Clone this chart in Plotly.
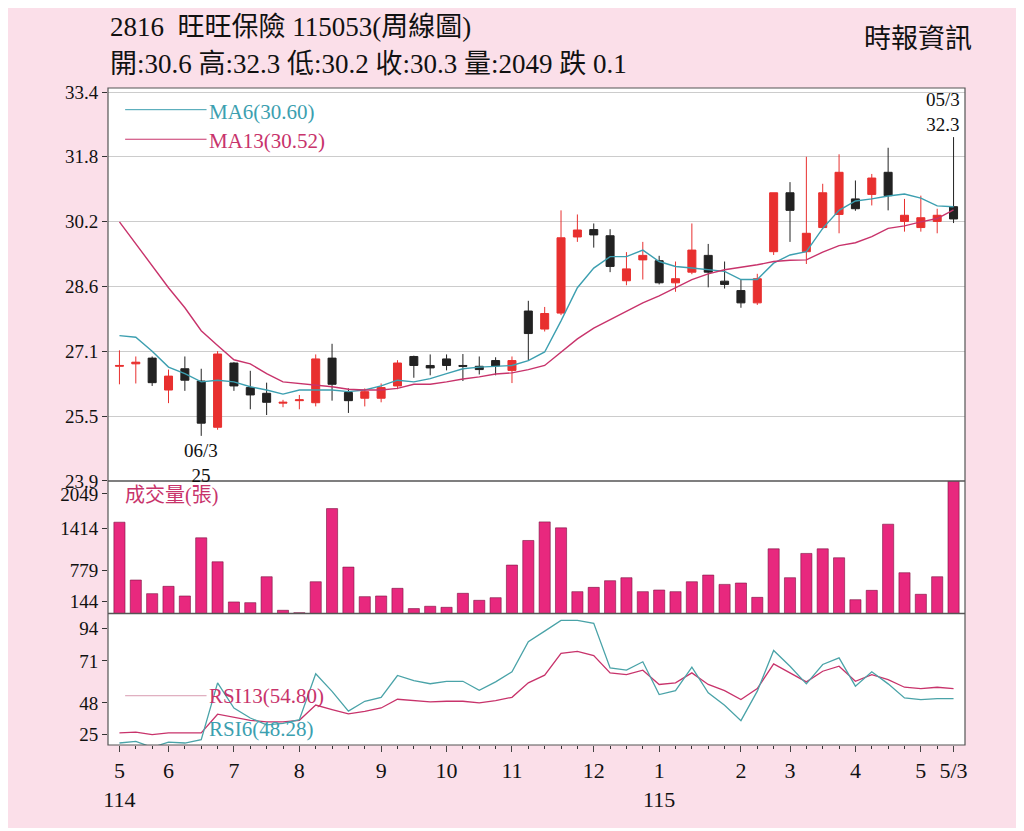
import plotly.graph_objects as go

# weekly candles, 114/05 .. 115/05/3
opens = [26.70, 26.76, 26.90, 26.12, 26.64, 26.34, 25.21, 26.78, 26.18, 26.04, 25.80, 25.86, 25.81, 26.90, 26.06, 25.92, 25.92, 26.22, 26.94, 26.72, 26.88, 26.72, 26.70, 26.84,
         26.60, 28.05, 27.61, 28.00, 29.86, 30.04, 29.89, 28.79, 29.30, 29.28, 28.74, 29.00, 29.41, 28.78, 28.55, 28.25, 29.50, 30.94, 29.50, 30.09, 30.41, 30.79, 30.90, 31.44, 30.24, 30.09, 30.24, 30.6]
highs = [27.09, 26.94, 26.94, 26.62, 26.94, 26.64, 27.07, 26.80, 26.59, 26.30, 25.88, 26.00, 26.99, 27.25, 26.16, 26.16, 26.28, 26.85, 26.96, 26.99, 26.99, 27.00, 26.94, 26.92,
         26.94, 28.30, 28.15, 30.51, 30.41, 30.19, 30.05, 29.49, 29.74, 29.40, 29.26, 30.19, 29.69, 29.26, 28.82, 28.96, 30.94, 31.20, 31.82, 31.16, 31.88, 31.24, 31.40, 32.04, 30.79, 30.87, 30.55, 32.3]
lows = [26.26, 26.28, 26.22, 25.80, 26.10, 25.00, 25.15, 26.10, 25.65, 25.51, 25.70, 25.65, 25.72, 25.86, 25.56, 25.72, 25.82, 26.14, 26.42, 26.48, 26.60, 26.34, 26.50, 26.48,
          26.29, 26.84, 27.55, 27.95, 29.74, 29.60, 29.00, 28.68, 28.82, 28.70, 28.52, 28.95, 28.63, 28.60, 28.13, 28.20, 29.42, 29.74, 29.20, 30.05, 29.95, 30.50, 30.63, 30.51, 29.99, 29.99, 29.95, 30.2]
closes = [26.72, 26.80, 26.30, 26.46, 26.36, 25.31, 27.00, 26.22, 26.00, 25.82, 25.82, 25.88, 26.88, 26.26, 25.86, 26.08, 26.18, 26.78, 26.72, 26.66, 26.72, 26.70, 26.62, 26.71,
          26.84, 27.50, 27.99, 29.84, 30.03, 29.91, 29.14, 29.08, 29.41, 28.74, 28.84, 29.54, 29.00, 28.70, 28.25, 28.84, 30.94, 30.51, 29.95, 30.94, 31.44, 30.55, 31.30, 30.87, 30.39, 30.33, 30.39, 30.3]

ma6 = [27.45, 27.41, 27.07, 26.68, 26.52, 26.32, 26.36, 26.32, 26.20, 26.12, 26.02, 26.12, 26.12, 26.12, 26.08, 26.12, 26.22, 26.36, 26.32, 26.40, 26.52, 26.64, 26.68, 26.70,
       26.72, 26.84, 27.05, 27.81, 28.62, 29.10, 29.38, 29.38, 29.54, 29.26, 29.14, 29.10, 29.06, 29.02, 28.82, 28.82, 29.22, 29.42, 29.50, 30.07, 30.51, 30.74, 30.79, 30.86, 30.91, 30.81, 30.62, 30.60]
ma13 = [30.23, 29.70, 29.14, 28.62, 28.13, 27.57, 27.21, 26.86, 26.76, 26.52, 26.32, 26.28, 26.24, 26.20, 26.14, 26.12, 26.12, 26.16, 26.26, 26.26, 26.32, 26.39, 26.44, 26.51,
        26.54, 26.62, 26.72, 27.05, 27.37, 27.63, 27.83, 28.05, 28.25, 28.42, 28.62, 28.82, 28.96, 29.06, 29.12, 29.18, 29.26, 29.29, 29.30, 29.49, 29.65, 29.72, 29.87, 30.07, 30.13, 30.23, 30.31, 30.52]

volume = [1411, 518, 308, 421, 272, 1170, 800, 180, 169, 569, 51, 15, 492, 1621, 718, 262, 272, 390, 77, 113, 97, 313, 205, 246,
          749, 1129, 1416, 1324, 339, 405, 508, 554, 339, 364, 339, 492, 595, 451, 472, 251, 1000, 554, 929, 1000, 862, 215, 359, 1380, 631, 298, 569, 2049]

rsi6 = [19.1, 20.2, 16.2, 19.7, 19.1, 21.3, 58.6, 42.0, 35.5, 31.0, 32.0, 34.4, 64.5, 53.0, 40.0, 46.5, 49.0, 63.4, 60.0, 58.0, 59.6, 59.6, 53.7, 59.2,
        65.8, 85.5, 92.5, 99.5, 99.5, 97.6, 68.4, 66.9, 72.4, 50.9, 53.5, 68.9, 52.0, 43.9, 33.8, 53.1, 79.8, 69.5, 57.9, 70.6, 75.0, 56.4, 65.8, 57.9, 48.7, 47.6, 48.2, 48.28]
rsi13 = [25.7, 26.3, 24.6, 25.7, 25.7, 25.7, 38.0, 36.0, 34.0, 33.0, 33.0, 34.0, 44.0, 41.0, 38.2, 39.9, 42.1, 47.8, 46.9, 46.1, 46.5, 46.5, 45.4, 46.9,
         49.1, 58.6, 63.6, 77.9, 79.2, 76.5, 65.1, 64.0, 66.9, 57.5, 58.6, 65.1, 57.5, 53.5, 47.6, 54.8, 71.0, 65.1, 59.2, 66.2, 69.5, 59.6, 64.0, 60.7, 55.7, 54.8, 55.7, 54.80]

month_pos = [0, 3, 7, 11, 16, 20, 24, 29, 33, 38, 41, 45, 49, 51]
month_labels = ["5<br>114", "6", "7", "8", "9", "10", "11", "12", "1<br>115", "2", "3", "4", "5", "5/3"]

price_ticks = [23.9, 25.48, 27.07, 28.65, 30.23, 31.82, 33.4]
price_labels = ["23.9", "25.5", "27.1", "28.6", "30.2", "31.8", "33.4"]
# tick labels sit where the reference prints them
vol_tickpos = [185, 662, 1309, 1848]
vol_labels = ["144", "779", "1414", "2049"]
rsi_tickpos = [25, 45.4, 73, 94]
rsi_labels = ["25", "48", "71", "94"]

x = list(range(len(closes)))
FONT = "Liberation Serif, Noto Sans CJK TC"
TEAL = "#3c9fb0"
MAG = "#c8336b"
BAR = "#e8287e"

fig = go.Figure()
fig.add_trace(go.Candlestick(
    x=x, open=opens, high=highs, low=lows, close=closes,
    increasing=dict(line=dict(color="#e8302f", width=1), fillcolor="#e8302f"),
    decreasing=dict(line=dict(color="#222222", width=1), fillcolor="#222222"),
    whiskerwidth=0, yaxis="y", showlegend=False))
fig.add_trace(go.Scatter(x=x, y=ma6, mode="lines", line=dict(color=TEAL, width=1.4), yaxis="y", showlegend=False))
fig.add_trace(go.Scatter(x=x, y=ma13, mode="lines", line=dict(color=MAG, width=1.4), yaxis="y", showlegend=False))
fig.add_trace(go.Bar(x=x, y=volume, marker=dict(color=BAR, line=dict(color="#7a1040", width=0.6)),
                     width=0.68, yaxis="y2", showlegend=False))
fig.add_trace(go.Scatter(x=x, y=rsi13, mode="lines", line=dict(color=MAG, width=1.3), yaxis="y3", showlegend=False))
fig.add_trace(go.Scatter(x=x, y=rsi6, mode="lines", line=dict(color="#4aa3a8", width=1.3), yaxis="y3", showlegend=False))

ann = [
    dict(x=0, y=1.118, xref="paper", yref="paper", text="2816  旺旺保險 115053(周線圖)", xanchor="left", font=dict(size=27)),
    dict(x=0, y=1.062, xref="paper", yref="paper", text="開:30.6 高:32.3 低:30.2 收:30.3 量:2049 跌 0.1", xanchor="left", font=dict(size=27)),
    dict(x=1.01, y=1.10, xref="paper", yref="paper", text="時報資訊", xanchor="right", font=dict(size=27)),
    dict(x=5, y=lows[5], yref="y", text="06/3<br>25", showarrow=False, yanchor="top", yshift=-2, font=dict(size=19)),
    dict(x=51, y=highs[51], yref="y", text="05/3<br>32.3", showarrow=False, yanchor="bottom", xanchor="right", xshift=8, font=dict(size=19)),
    dict(x=0.115, y=0.985, xref="paper", yref="paper", text="MA6(30.60)", xanchor="left", yanchor="top", font=dict(size=21, color=TEAL)),
    dict(x=0.115, y=0.94, xref="paper", yref="paper", text="MA13(30.52)", xanchor="left", yanchor="top", font=dict(size=21, color=MAG)),
    dict(x=0.018, y=0.40, xref="paper", yref="paper", text="成交量(張)", xanchor="left", yanchor="top", font=dict(size=20, color=MAG)),
    dict(x=0.115, y=0.075, xref="paper", yref="paper", text="RSI13(54.80)", xanchor="left", yanchor="middle", font=dict(size=21, color=MAG)),
    dict(x=0.115, y=0.025, xref="paper", yref="paper", text="RSI6(48.28)", xanchor="left", yanchor="middle", font=dict(size=21, color=TEAL)),
]
for a in ann:
    a.setdefault("showarrow", False)

shapes = [
    dict(type="line", xref="paper", yref="paper", x0=0.02, x1=0.115, y0=0.967, y1=0.967, line=dict(color=TEAL, width=1)),
    dict(type="line", xref="paper", yref="paper", x0=0.02, x1=0.115, y0=0.922, y1=0.922, line=dict(color=MAG, width=1)),
    dict(type="line", xref="paper", yref="paper", x0=0.02, x1=0.115, y0=0.075, y1=0.075, line=dict(color="#d89ab0", width=1)),
    dict(type="line", xref="paper", yref="paper", x0=0, x1=1, y0=0.402, y1=0.402, line=dict(color="#555", width=1.5)),
    dict(type="line", xref="paper", yref="paper", x0=0, x1=1, y0=0.2, y1=0.2, line=dict(color="#555", width=1.5)),
    dict(type="rect", xref="paper", yref="paper", x0=0, x1=1, y0=0, y1=1, line=dict(color="#555", width=1.2)),
]

ax = dict(showline=False, ticks="outside", tickcolor="#333", tickfont=dict(size=19, color="#111"), zeroline=False, fixedrange=True)
fig.update_layout(
    width=1010, height=820,
    margin=dict(l=100, r=53, t=80, b=83),
    paper_bgcolor="#fbdfe9", plot_bgcolor="white",
    font=dict(family=FONT, color="#111"),
    xaxis=dict(anchor="y3", range=[-0.7, 51.7], tickvals=month_pos, ticktext=month_labels, ticks="outside", ticklen=6,
               tickfont=dict(size=22), showgrid=False, rangeslider=dict(visible=False),
               minor=dict(tickvals=x, ticks="outside", ticklen=3, tickcolor="#333"), fixedrange=True),
    yaxis=dict(ax, domain=[0.402, 1], range=[23.9, 33.5], tickvals=price_ticks, ticktext=price_labels,
               showgrid=True, gridcolor="#cccccc"),
    yaxis2=dict(ax, domain=[0.2, 0.402], range=[0, 2049], tickvals=vol_tickpos, ticktext=vol_labels, showgrid=False),
    yaxis3=dict(ax, domain=[0, 0.2], range=[17.8, 104], tickvals=rsi_tickpos, ticktext=rsi_labels, showgrid=False),
    annotations=ann, shapes=shapes,
)
fig.write_html("out.html")
